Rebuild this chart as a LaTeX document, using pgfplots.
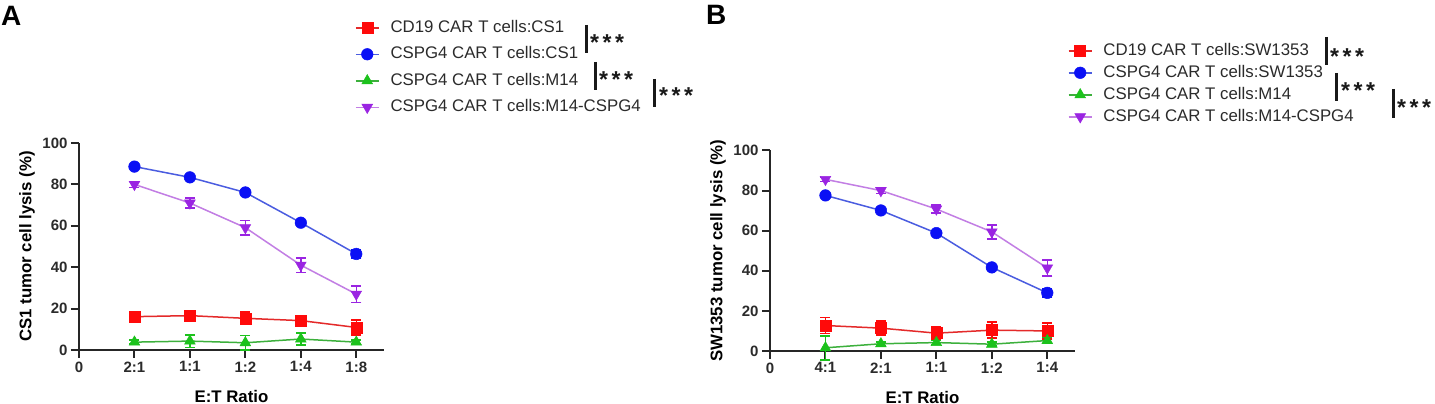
\documentclass[border=0pt]{standalone}
\usepackage{fontspec}
\setmainfont{Liberation Sans}
\usepackage{pgfplots}
\pgfplotsset{compat=1.18}
\usepackage{pgfplotstable}

\definecolor{cred}{HTML}{FF0A0A}
\definecolor{credl}{HTML}{E42A2A}
\definecolor{cblue}{HTML}{0A10F5}
\definecolor{cbluel}{HTML}{4A5CE0}
\definecolor{cgreen}{HTML}{1CC21C}
\definecolor{cgreenl}{HTML}{3CB03C}
\definecolor{cpurp}{HTML}{9A24E2}
\definecolor{cpurpl}{HTML}{C27EE4}
\definecolor{ctxt}{HTML}{2B2B2B}

% Panel A: x = 1..5 -> 2:1, 1:1, 1:2, 1:4, 1:8
\pgfplotstableread{
x y e
1 16.1 2.0
2 16.6 2.5
3 15.3 3.0
4 14.2 2.0
5 10.9 3.7
}\ARed
\pgfplotstableread{
x y e
1 88.6 1.0
2 83.4 1.0
3 76.1 1.0
4 61.5 1.0
5 46.4 2.0
}\ABlue
\pgfplotstableread{
x y e
1 3.8 1.0
2 4.3 3.0
3 3.5 3.5
4 5.3 3.0
5 3.8 1.0
}\AGreen
\pgfplotstableread{
x y e
1 80.0 1.5
2 71.0 2.5
3 59.1 3.5
4 41.0 3.5
5 27.0 4.0
}\APurp

% Panel B: x = 1..5 -> 4:1, 2:1, 1:1, 1:2, 1:4
\pgfplotstableread{
x y e
1 12.7 4.0
2 11.4 3.5
3 8.9 3.0
4 10.4 4.0
5 10.0 4.0
}\BRed
\pgfplotstableread{
x y e
1 77.6 1.0
2 70.1 1.0
3 58.8 1.0
4 41.7 1.0
5 29.0 2.0
}\BBlue
\pgfplotstableread{
x y e
1 1.6 6.0
2 3.6 1.0
3 4.2 1.0
4 3.4 1.0
5 5.2 1.5
}\BGreen
\pgfplotstableread{
x y e
1 85.6 1.0
2 80.0 1.5
3 70.8 2.0
4 59.4 3.5
5 41.4 4.0
}\BPurp

\pgfplotsset{
  panel/.style={
    scale only axis, width=305pt,
    xmin=0, xmax=5.5, ymin=0, ymax=100,
    axis lines*=left,
    axis line style={line width=2.2pt, color=black!85, -},
    tick align=outside, major tick length=8pt,
    tick style={line width=2pt, color=black!85},
    xtick={0,1,2,3,4,5}, ytick={0,20,40,60,80,100},
    tick label style={font=\fontsize{15}{15}\selectfont\bfseries, color=ctxt},
    /pgf/number format/assume math mode=true,
    every axis y label/.style={at={(rel axis cs:0,0.5)}, xshift=-52pt, rotate=90, anchor=center, font=\fontsize{16.8}{17}\selectfont\bfseries},
    every axis x label/.style={at={(rel axis cs:0.5,0)}, yshift=-46pt, anchor=center, font=\fontsize{16.8}{17}\selectfont\bfseries},
    legend cell align=left,
    legend style={draw=none, fill=none, inner sep=0pt, outer sep=0pt,
      font=\fontsize{16.8}{17}\selectfont, text=ctxt,
      nodes={inner sep=0pt, text height=12pt, text depth=3.5pt},
      /tikz/every odd column/.append style={column sep=11pt}},
    legend image code/.code={\draw[mark repeat=2, mark phase=2, #1] plot coordinates {(0pt,0pt) (11.5pt,0pt) (23pt,0pt)};},
    clip=false,
  },
  eb/.style={error bars/y dir=both, error bars/y explicit,
    error bars/error bar style={line width=1.5pt, color=#1},
    error bars/error mark options={rotate=90, line width=1.5pt, mark size=5pt, color=#1}},
  sred/.style={color=credl, line width=1.5pt, mark=square*, mark size=5.5pt, mark options={fill=cred, draw=cred, line width=0.5pt}, eb=cred},
  sblue/.style={color=cbluel, line width=1.5pt, mark=*, mark size=5.8pt, mark options={fill=cblue, draw=cblue, line width=0.5pt}, eb=cblue},
  sgreen/.style={color=cgreenl, line width=1.5pt, mark=triangle*, mark size=6.2pt, mark options={fill=cgreen, draw=cgreen, line width=0.5pt}, eb=cgreen},
  spurp/.style={color=cpurpl, line width=1.5pt, mark=triangle*, mark size=6.2pt, mark options={fill=cpurp, draw=cpurp, line width=0.5pt, rotate=180}, eb=cpurp},
}

\begin{document}
\begin{tikzpicture}
\useasboundingbox (0,0) rectangle (1435pt,404pt);
\fill[white] (0,0) rectangle (1435pt,404pt);

% Panel letters
\node[anchor=base west, inner sep=0pt, font=\fontsize{28}{28}\selectfont\bfseries] at (1pt,378pt) {A};
\node[anchor=base west, inner sep=0pt, font=\fontsize{28}{28}\selectfont\bfseries] at (706pt,379pt) {B};

% Panel A
\begin{axis}[panel, height=207pt, at={(79pt,54pt)}, anchor=south west,
  xticklabels={0,2:1,1:1,1:2,1:4,1:8},
  xlabel={E:T Ratio}, ylabel={CS1 tumor cell lysis (\%)},
  legend style={at={(axis description cs:0.905,1.594)}, anchor=north west,
    /tikz/row sep=11pt}]
\addplot[sred] table[x=x, y=y, y error=e] {\ARed};
\addlegendentry{CD19 CAR T cells:CS1}
\addplot[sblue] table[x=x, y=y, y error=e] {\ABlue};
\addlegendentry{CSPG4 CAR T cells:CS1}
\addplot[sgreen] table[x=x, y=y, y error=e] {\AGreen};
\addlegendentry{CSPG4 CAR T cells:M14}
\addplot[spurp] table[x=x, y=y, y error=e] {\APurp};
\addlegendentry{CSPG4 CAR T cells:M14-CSPG4}
\end{axis}

% Panel B
\begin{axis}[panel, height=200.5pt, at={(770pt,53pt)}, anchor=south west,
  xticklabels={0,4:1,2:1,1:1,1:2,1:4},
  xlabel={E:T Ratio}, ylabel={SW1353 tumor cell lysis (\%)},
  legend style={at={(axis description cs:0.977,1.536)}, anchor=north west,
    /tikz/row sep=6.5pt}]
\addplot[sred] table[x=x, y=y, y error=e] {\BRed};
\addlegendentry{CD19 CAR T cells:SW1353}
\addplot[sblue] table[x=x, y=y, y error=e] {\BBlue};
\addlegendentry{CSPG4 CAR T cells:SW1353}
\addplot[sgreen] table[x=x, y=y, y error=e] {\BGreen};
\addlegendentry{CSPG4 CAR T cells:M14}
\addplot[spurp] table[x=x, y=y, y error=e] {\BPurp};
\addlegendentry{CSPG4 CAR T cells:M14-CSPG4}
\end{axis}

% Significance brackets
\begin{scope}[line width=3pt, color=black!90]
\draw (586pt,379pt) -- (586pt,351pt);
\draw (595pt,342pt) -- (595pt,314pt);
\draw (654pt,325pt) -- (654pt,297pt);
\draw (1326pt,367pt) -- (1326pt,339pt);
\draw (1336pt,331pt) -- (1336pt,303pt);
\draw (1393pt,315pt) -- (1393pt,286pt);
\end{scope}
\tikzset{stars/.style={anchor=base west, inner sep=0pt, font=\fontsize{23}{23}\selectfont\bfseries, text=black!90}}
\node[stars] at (590pt,353.4pt) {*\kern3.5pt*\kern3.5pt*};
\node[stars] at (599pt,316.4pt) {*\kern3.5pt*\kern3.5pt*};
\node[stars] at (659pt,300.4pt) {*\kern3.5pt*\kern3.5pt*};
\node[stars] at (1330pt,339.4pt) {*\kern3.5pt*\kern3.5pt*};
\node[stars] at (1341pt,305.4pt) {*\kern3.5pt*\kern3.5pt*};
\node[stars] at (1397pt,288.4pt) {*\kern3.5pt*\kern3.5pt*};
\end{tikzpicture}
\end{document}
